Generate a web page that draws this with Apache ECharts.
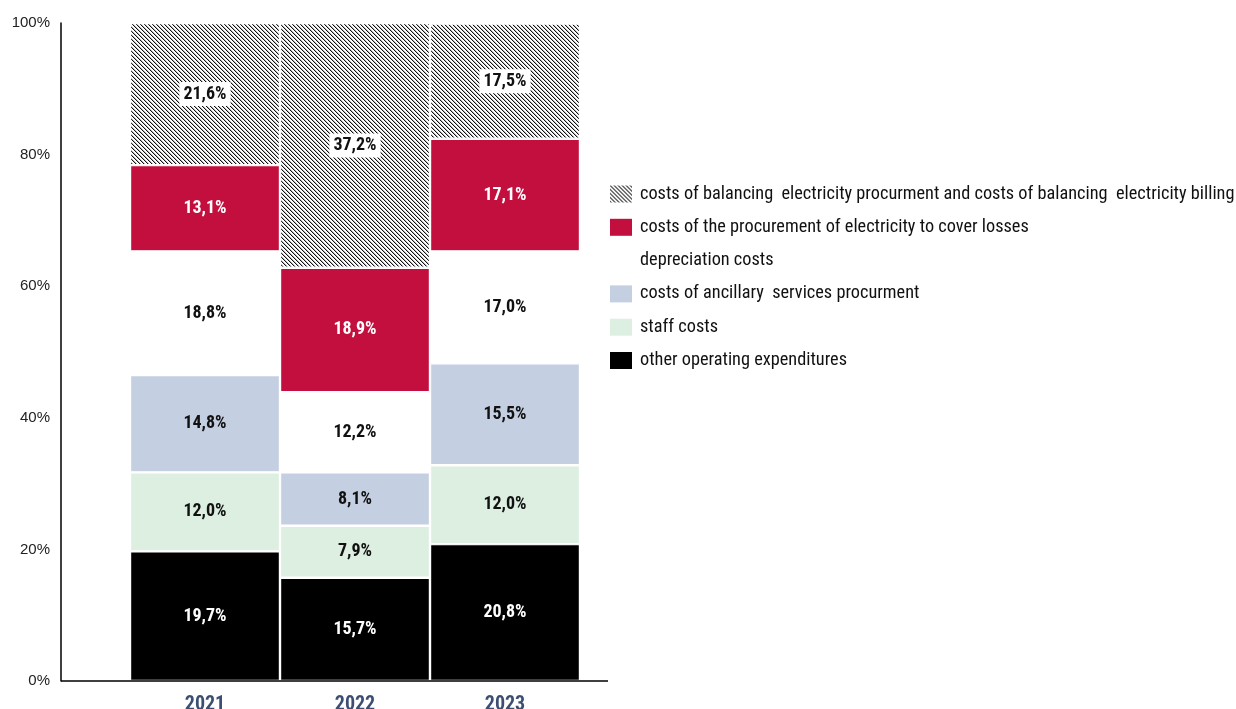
<!DOCTYPE html>
<html><head><meta charset="utf-8">
<script src="https://cdn.jsdelivr.net/npm/echarts@6/dist/echarts.min.js"></script>
<style>html,body{margin:0;padding:0;background:#fff}#c{width:1236px;height:709px}</style>
</head><body><div id="c"></div>
<script>
const categories = ['2021', '2022', '2023'];
const seriesNames = [
  'other operating expenditures',
  'staff costs',
  'costs of ancillary  services procurment',
  'depreciation costs',
  'costs of the procurement of electricity to cover losses',
  'costs of balancing  electricity procurment and costs of balancing  electricity billing'
];
const otherOpex = [19.7, 15.7, 20.8];
const staffCosts = [12.0, 7.9, 12.0];
const ancillary = [14.8, 8.1, 15.5];
const depreciation = [18.8, 12.2, 17.0];
const losses = [13.1, 18.9, 17.1];
const balancing = [21.6, 37.2, 17.5];
const yTicks = [0, 20, 40, 60, 80, 100];

const pc = document.createElement('canvas');
pc.width = 4; pc.height = 4;
const pctx = pc.getContext('2d');
pctx.fillStyle = '#ffffff'; pctx.fillRect(0,0,4,4);
for (let i = 0; i < 4; i++) {
  pctx.fillStyle = '#111111'; pctx.fillRect(i, i, 1, 1);
  pctx.fillStyle = '#b8b8b8'; pctx.fillRect((i+1)%4, i, 1, 1);
}
const hatch = {image: pc, repeat: 'repeat'};

const narrow = "'Roboto Condensed', 'Liberation Sans Narrow', 'Arial Narrow', sans-serif";
const fmt = p => p.value.toFixed(1).replace('.', ',') + '%';

const datasets = [otherOpex, staffCosts, ancillary, depreciation, losses, balancing];
const colors = ['#000000', '#dcefe1', '#c5cfe2', '#ffffff', '#c30f3d', hatch];
const labelColors = ['#ffffff', '#111', '#111', '#111', '#ffffff', '#111'];

const series = datasets.map((d, i) => ({
  name: seriesNames[i],
  type: 'bar',
  stack: 'total',
  barCategoryGap: '0%',
  data: d,
  itemStyle: {color: colors[i], borderColor: '#ffffff', borderWidth: 1.2},
  label: {
    show: true, position: 'inside', formatter: fmt,
    color: labelColors[i], fontFamily: narrow, fontWeight: 'bold', fontSize: 18,
    backgroundColor: i === 5 ? '#ffffff' : 'transparent',
    padding: i === 5 ? [3, 4] : 0
  },
  emphasis: {disabled: true}
}));

const chart = echarts.init(document.getElementById('c'), null, {renderer: 'canvas'});
chart.setOption({
  animation: false,
  grid: {left: 130, right: 656, top: 23, bottom: 28, outerBoundsMode: 'none', containLabel: false},
  legend: {
    orient: 'vertical', left: 610, top: 185, padding: 0,
    itemWidth: 22, itemHeight: 17, itemGap: 15.3,
    icon: 'rect',
    itemStyle: {borderWidth: 0},
    data: seriesNames.slice().reverse(),
    textStyle: {fontFamily: narrow, fontSize: 18.3, lineHeight: 18, color: '#111', padding: [0, 0, 0, 3]},
    selectedMode: false
  },
  xAxis: {
    type: 'category', data: categories,
    axisLine: {show: false}, axisTick: {show: false},
    axisLabel: {fontFamily: narrow, fontWeight: 'bold', fontSize: 20, color: '#3c4f73', margin: 14}
  },
  yAxis: {
    type: 'value', min: yTicks[0], max: yTicks[yTicks.length-1], interval: 20,
    offset: 69,
    axisLine: {show: true, lineStyle: {color: '#000', width: 1.5}},
    axisTick: {show: false}, splitLine: {show: false},
    axisLabel: {formatter: '{value}%', fontFamily: "'Liberation Sans', Arial, sans-serif", fontSize: 15, color: '#222', margin: 11}
  },
  graphic: [{
    type: 'line', shape: {x1: 61, y1: 681, x2: 608, y2: 681},
    style: {stroke: '#000', lineWidth: 1.5}, z: 10
  }],
  series: series
});
</script></body></html>
